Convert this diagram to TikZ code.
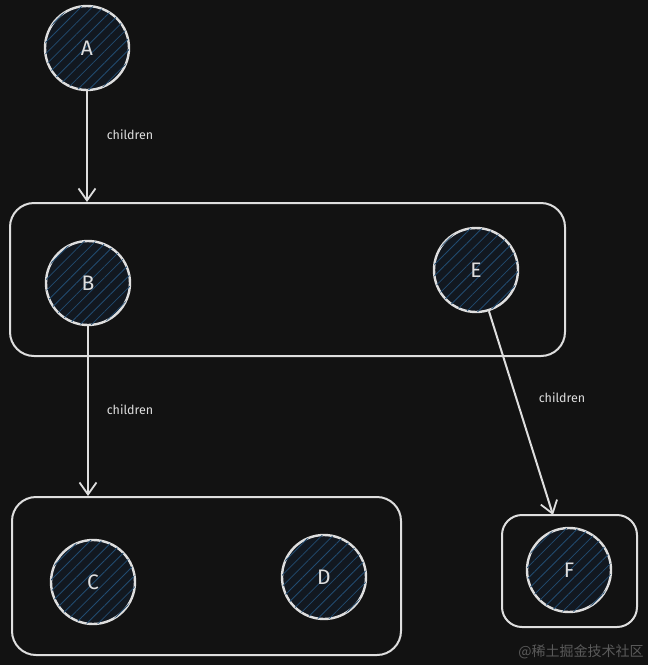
\documentclass[tikz,border=0pt]{standalone}
\usepackage{fontspec}
\setmainfont{Fira Sans}
\newfontfamily\cjkwm{Noto Sans CJK SC}
\usetikzlibrary{arrows.meta, patterns.meta}
\definecolor{fondo}{HTML}{121212}
\definecolor{trazo}{HTML}{DEDEDE}
\definecolor{relleno}{HTML}{121820}
\definecolor{rayas}{HTML}{214B70}
\definecolor{marca}{HTML}{5A5A5A}
\tikzset{
  nodo/.style={circle, draw=trazo, line width=2.4pt, fill=relleno, minimum size=84pt,
    inner sep=0pt, text=trazo, font=\fontsize{21}{21}\selectfont,
    postaction={pattern={Lines[angle=45, distance=8pt, line width=0.8pt]}, pattern color=rayas}},
  caja/.style={draw=trazo, line width=2pt, rounded corners=24pt, inner sep=0pt},
  flecha/.style={draw=trazo, line width=2pt, -{Straight Barb[length=12pt, width=17pt, line width=1.8pt]}},
  etiqueta/.style={text=trazo, font=\fontsize{12.5}{12.5}\selectfont}
}
\begin{document}
\begin{tikzpicture}[x=1pt, y=-1pt]
    % Fondo
    \fill[fondo] (0,0) rectangle (648,665);
    \useasboundingbox (0,0) rectangle (648,665);
    % Cajas
    \node[caja, minimum width=555pt, minimum height=153pt] (caja1) at (287.5,279.5) {};
    \node[caja, minimum width=389pt, minimum height=158pt] (caja2) at (206.5,576) {};
    \node[caja, rounded corners=20pt, minimum width=135pt, minimum height=112pt] (caja3) at (569.5,571) {};
    % Nodos
    \node[nodo] (A) at (87,48) {A};
    \node[nodo] (B) at (88,283) {B};
    \node[nodo] (E) at (476,270) {E};
    \node[nodo] (C) at (93,582) {C};
    \node[nodo] (D) at (324,577) {D};
    \node[nodo] (F) at (569,570) {F};
    % Flechas
    \coordinate (finE) at (553,515);
    \draw[flecha] (A) -- (A |- caja1.north);
    \draw[flecha] (B) -- (B |- caja2.north);
    \draw[flecha] (E) -- (finE);
    % Texto de las flechas
    \node[etiqueta] (t1) at (130,135) {children};
    \node[etiqueta] (t2) at (130,410) {children};
    \node[etiqueta] (t3) at (562,398) {children};
    % Marca de agua
    \node[text=marca, font=\cjkwm\fontsize{14}{14}\selectfont] (wm) at (581,652) {@稀土掘金技术社区};
\end{tikzpicture}
\end{document}
